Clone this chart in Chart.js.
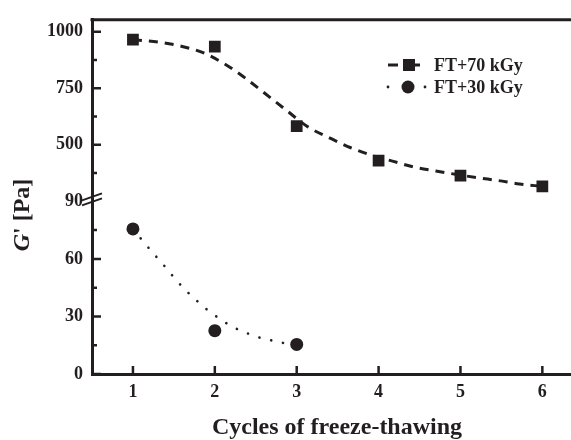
<!DOCTYPE html>
<html>
<head>
<meta charset="utf-8">
<script src="https://cdn.jsdelivr.net/npm/chart.js@4.4.0/dist/chart.umd.min.js"></script>
<style>
html,body{margin:0;padding:0;background:#fff}
#wrap{width:571px;height:440px}
</style>
</head>
<body>
<div id="wrap"><canvas id="c"></canvas></div>
<script>
// measured points
var cycles70 = [1, 2, 3, 4, 5, 6];
var g70 = [965, 934, 583, 430, 364, 316];
var cycles30 = [1, 2, 3];
var g30 = [75.6, 22.6, 15.4];

// fitted curves
var fitX70 = [1, 1.32, 1.59, 1.84, 2.1, 2.35, 2.61, 2.87, 3.13, 3.4, 3.66, 3.93, 4.17, 4.44, 4.7, 5.2, 5.46, 5.72, 6];
var fit70 = [965, 954, 936, 910, 862, 801, 728, 654, 581, 531, 487, 452, 428, 401, 384, 355, 342, 327, 316];
var fitX30 = [1, 1.12, 1.24, 1.37, 1.49, 1.62, 1.77, 1.91, 2.06, 2.21, 2.35, 2.5, 2.65, 2.79, 3];
var fit30 = [75.6, 69.4, 63.3, 57.1, 50.9, 44.7, 38.6, 33.4, 28.8, 24.7, 22.1, 19.5, 18, 16.5, 15.4];

var xTicks = [1, 2, 3, 4, 5, 6];
var topTicks = [500, 750, 1000];
var topMinor = [375, 625, 875];
var botTicks = [0, 30, 60, 90];
var botMinor = [15, 45, 75];
var names = ['FT+70 kGy', 'FT+30 kGy'];

var ink = '#231f20';
var serif = "'Liberation Serif', 'Times New Roman', serif";

function pts(xs, ys) {
    return xs.map(function (v, i) { return {x: v, y: ys[i]}; });
}

var decor = {
    id: 'decor',
    afterDatasetsDraw: function (chart) {
        var ctx = chart.ctx, a = chart.chartArea;
        var sx = chart.scales.x, yt = chart.scales.yTop, yb = chart.scales.yBot;
        ctx.save();
        ctx.strokeStyle = ink;
        ctx.fillStyle = ink;
        // top frame line
        ctx.lineWidth = 3;
        ctx.beginPath();
        ctx.moveTo(a.left - 1.5, a.top);
        ctx.lineTo(chart.width, a.top);
        ctx.stroke();
        // inward ticks
        ctx.lineWidth = 2.5;
        ctx.beginPath();
        xTicks.forEach(function (v) {
            var p = sx.getPixelForValue(v);
            ctx.moveTo(p, a.bottom); ctx.lineTo(p, a.bottom - 8);
        });
        topTicks.forEach(function (v) {
            var p = yt.getPixelForValue(v);
            ctx.moveTo(a.left, p); ctx.lineTo(a.left + 9, p);
        });
        topMinor.forEach(function (v) {
            var p = yt.getPixelForValue(v);
            ctx.moveTo(a.left, p); ctx.lineTo(a.left + 5, p);
        });
        botTicks.forEach(function (v) {
            if (v === 90) return;
            var p = yb.getPixelForValue(v);
            ctx.moveTo(a.left, p); ctx.lineTo(a.left + 9, p);
        });
        botMinor.forEach(function (v) {
            var p = yb.getPixelForValue(v);
            ctx.moveTo(a.left, p); ctx.lineTo(a.left + 5, p);
        });
        ctx.stroke();
        // axis break
        var br = yb.getPixelForValue(90);
        ctx.lineWidth = 2;
        ctx.beginPath();
        ctx.moveTo(a.left - 10, br + 4); ctx.lineTo(a.left + 10, br - 3);
        ctx.moveTo(a.left - 10, br - 1); ctx.lineTo(a.left + 10, br - 8);
        ctx.stroke();

        // legend
        ctx.lineWidth = 3;
        ctx.beginPath();
        ctx.moveTo(388, 65); ctx.lineTo(398, 65);
        ctx.moveTo(414, 65); ctx.lineTo(420, 65);
        ctx.stroke();
        ctx.fillRect(403, 59, 12, 12);
        ctx.beginPath(); ctx.arc(388, 87, 1.4, 0, Math.PI * 2); ctx.fill();
        ctx.beginPath(); ctx.arc(425, 87, 1.4, 0, Math.PI * 2); ctx.fill();
        ctx.beginPath(); ctx.arc(408, 87, 6.5, 0, Math.PI * 2); ctx.fill();
        ctx.font = 'bold 18px ' + serif;
        ctx.textAlign = 'left';
        ctx.textBaseline = 'middle';
        ctx.fillText(names[0], 434, 66);
        ctx.fillText(names[1], 434, 88);

        // x title
        ctx.font = 'bold 24px ' + serif;
        ctx.textAlign = 'center';
        ctx.fillText('Cycles of freeze-thawing', 337, 428);

        // y title, italic G
        ctx.translate(23, 215);
        ctx.rotate(-Math.PI / 2);
        ctx.font = 'italic bold 24px ' + serif;
        var w1 = ctx.measureText('G').width;
        ctx.font = 'bold 24px ' + serif;
        var w2 = ctx.measureText("' [Pa]").width;
        var x0 = -(w1 + w2) / 2;
        ctx.textAlign = 'left';
        ctx.font = 'italic bold 24px ' + serif;
        ctx.fillText('G', x0, 0);
        ctx.font = 'bold 24px ' + serif;
        ctx.fillText("' [Pa]", x0 + w1, 0);
        ctx.restore();
    }
};

var tickFont = {family: serif, size: 18, weight: 'bold'};
function plain(v) { return String(v); }

new Chart(document.getElementById('c'), {
    type: 'scatter',
    data: {
        datasets: [
            {label: names[0], data: pts(cycles70, g70), yAxisID: 'yTop',
             pointStyle: 'rect', pointRadius: 8.3, backgroundColor: ink, borderColor: ink, borderWidth: 0},
            {label: names[1], data: pts(cycles30, g30), yAxisID: 'yBot',
             pointStyle: 'circle', pointRadius: 6.5, backgroundColor: ink, borderColor: ink, borderWidth: 0},
            {data: pts(fitX70, fit70), yAxisID: 'yTop', showLine: true, pointRadius: 0,
             borderColor: ink, borderWidth: 3, borderDash: [9, 7], tension: 0.4, cubicInterpolationMode: 'monotone'},
            {data: pts(fitX30, fit30), yAxisID: 'yBot', showLine: true, pointRadius: 0,
             borderColor: ink, borderWidth: 2.6, borderDash: [0.1, 12], borderCapStyle: 'round',
             tension: 0.4, cubicInterpolationMode: 'monotone'}
        ]
    },
    options: {
        responsive: true,
        maintainAspectRatio: false,
        animation: false,
        layout: {autoPadding: false, padding: {top: 15, right: 0, left: 0, bottom: 0}},
        plugins: {legend: {display: false}, tooltip: {enabled: false}},
        scales: {
            x: {
                type: 'linear', min: 0.5, max: 6.35,
                grid: {display: false, drawTicks: false},
                border: {color: ink, width: 3},
                ticks: {font: tickFont, color: ink, padding: 8, callback: plain},
                afterBuildTicks: function (s) { s.ticks = xTicks.map(function (v) { return {value: v}; }); },
                afterFit: function (s) { s.height = 66; s.paddingRight = 0; s.paddingLeft = 0; }
            },
            yBot: {
                type: 'linear', position: 'left', stack: 'g', stackWeight: 175,
                min: 0, max: 90,
                grid: {display: false, drawTicks: false},
                border: {color: ink, width: 3},
                ticks: {font: tickFont, color: ink, padding: 9, callback: plain},
                afterBuildTicks: function (s) { s.ticks = botTicks.map(function (v) { return {value: v}; }); },
                afterFit: function (s) { s.width = 92; }
            },
            yTop: {
                type: 'linear', position: 'left', stack: 'g', stackWeight: 184,
                min: 250, max: 1053,
                grid: {display: false, drawTicks: false},
                border: {color: ink, width: 3},
                ticks: {font: tickFont, color: ink, padding: 9, callback: plain},
                afterBuildTicks: function (s) { s.ticks = topTicks.map(function (v) { return {value: v}; }); },
                afterFit: function (s) { s.width = 92; }
            }
        }
    },
    plugins: [decor]
});
</script>
</body>
</html>
